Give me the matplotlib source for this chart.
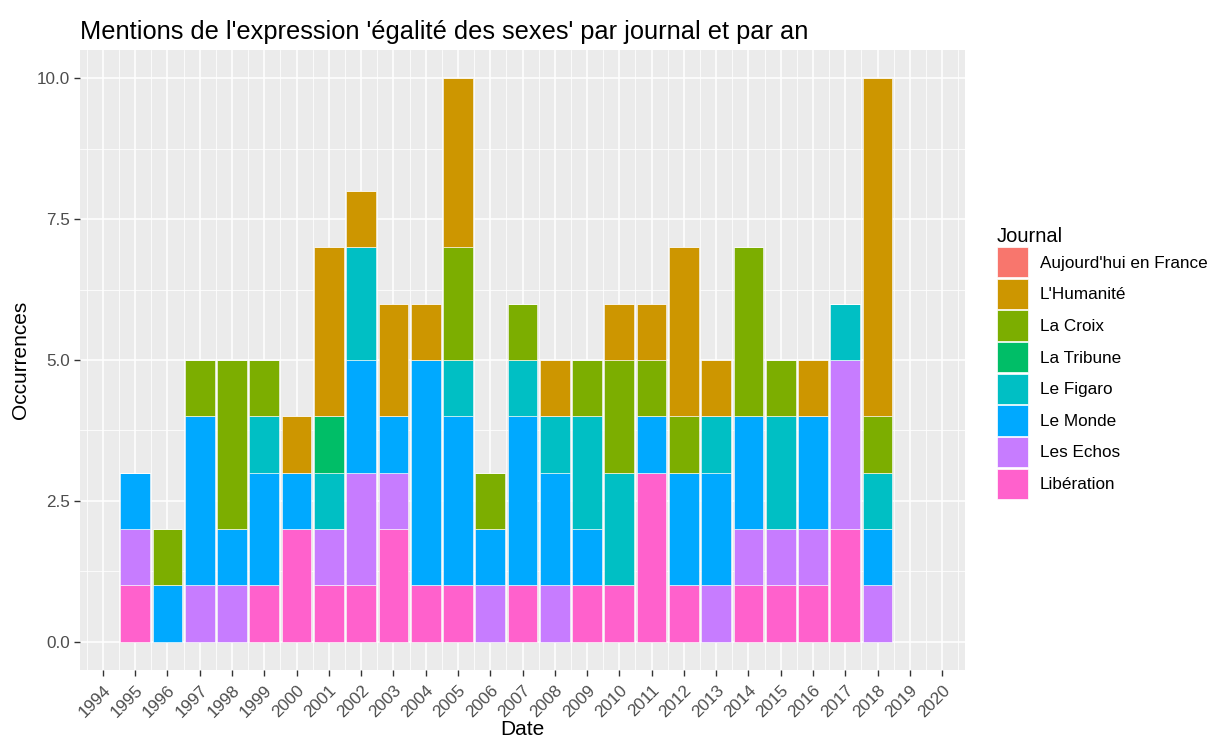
import matplotlib
matplotlib.use("Agg")
import matplotlib.pyplot as plt
from matplotlib.patches import Patch
import numpy as np

plt.rcParams['font.family'] = ['Liberation Sans', 'DejaVu Sans']

years = list(range(1995, 2019))
journals = ["Aujourd'hui en France", "L'Humanité", "La Croix", "La Tribune",
            "Le Figaro", "Le Monde", "Les Echos", "Libération"]
colors = ["#F8766D", "#CD9600", "#7CAE00", "#00BE67",
          "#00BFC4", "#00A9FF", "#C77CFF", "#FF61CC"]

#               95 96 97 98 99 00 01 02 03 04 05 06 07 08 09 10 11 12 13 14 15 16 17 18
aujourdhui  = [0, 0, 0, 0, 0, 0, 0, 0, 0, 0, 0, 0, 0, 0, 0, 0, 0, 0, 0, 0, 0, 0, 0, 0]
humanite    = [0, 0, 0, 0, 0, 1, 3, 1, 2, 1, 3, 0, 0, 1, 0, 1, 1, 3, 1, 0, 0, 1, 0, 6]
la_croix    = [0, 1, 1, 3, 1, 0, 0, 0, 0, 0, 2, 1, 1, 0, 1, 2, 1, 1, 0, 3, 1, 0, 0, 1]
la_tribune  = [0, 0, 0, 0, 0, 0, 1, 0, 0, 0, 0, 0, 0, 0, 0, 0, 0, 0, 0, 0, 0, 0, 0, 0]
le_figaro   = [0, 0, 0, 0, 1, 0, 1, 2, 0, 0, 1, 0, 1, 1, 2, 2, 0, 0, 1, 0, 2, 0, 1, 1]
le_monde    = [1, 1, 3, 1, 2, 1, 0, 2, 1, 4, 3, 1, 3, 2, 1, 0, 1, 2, 2, 2, 0, 2, 0, 1]
les_echos   = [1, 0, 1, 1, 0, 0, 1, 2, 1, 0, 0, 1, 0, 1, 0, 0, 0, 0, 1, 1, 1, 1, 3, 1]
liberation  = [1, 0, 0, 0, 1, 2, 1, 1, 2, 1, 1, 0, 1, 0, 1, 1, 3, 1, 0, 1, 1, 1, 2, 0]

series = [aujourdhui, humanite, la_croix, la_tribune, le_figaro, le_monde, les_echos, liberation]
tick_years = list(range(1994, 2021))

fig = plt.figure(figsize=(12.09, 7.42), dpi=100)
W, H = 1209, 742
ax = fig.add_axes([80 / W, (H - 670) / H, (965 - 80) / W, (670 - 50) / H])
ax.set_facecolor("#EBEBEB")

x = np.array(years, dtype=float)
bottom = np.zeros(len(years))
for vals, col in zip(reversed(series), reversed(colors)):
    v = np.array(vals, dtype=float)
    ax.bar(x, v, bottom=bottom, width=0.92, color=col, edgecolor="white",
           linewidth=0.4, zorder=3)
    bottom += v

ax.set_xlim(1993.29, 2020.71)
ax.set_ylim(-0.5, 10.5)
ax.set_xticks(tick_years)
ax.set_xticklabels([str(t) for t in tick_years], rotation=45, ha="right",
                   rotation_mode="anchor", fontsize=12.3, color="#4D4D4D")
ax.set_xticks(np.arange(1993.5, 2020.6, 1.0), minor=True)
yt = [0, 2.5, 5, 7.5, 10]
ax.set_yticks(yt)
ax.set_yticklabels(["0.0", "2.5", "5.0", "7.5", "10.0"], fontsize=12.3, color="#4D4D4D")
ax.set_yticks([1.25, 3.75, 6.25, 8.75], minor=True)

ax.grid(True, which="major", color="white", linewidth=1.1, zorder=0)
ax.grid(True, which="minor", color="white", linewidth=0.55, zorder=0)
ax.set_axisbelow(True)
for s in ax.spines.values():
    s.set_visible(False)
ax.tick_params(axis="both", which="major", color="#333333", length=4, width=1, pad=3)
ax.tick_params(axis="x", which="major", pad=5)
ax.tick_params(axis="both", which="minor", length=0)

ax.set_xlabel("Date", fontsize=15, labelpad=0)
ax.set_ylabel("Occurrences", fontsize=15, labelpad=5)
ax.set_title("Mentions de l'expression 'égalité des sexes' par journal et par an",
             loc="left", fontsize=18.3, pad=8)

handles = [Patch(facecolor=c, edgecolor="white", linewidth=0.5) for c in colors]
leg = fig.legend(handles, journals, title="Journal", loc="upper left",
                 bbox_to_anchor=(990 / W, 1 - 220 / H), frameon=False,
                 fontsize=12.3, title_fontsize=14.5, handlelength=1.8,
                 handleheight=2.35, labelspacing=0.08, handletextpad=0.7,
                 borderaxespad=0)
leg._legend_box.align = "left"

fig.savefig("out.png", dpi=100)
